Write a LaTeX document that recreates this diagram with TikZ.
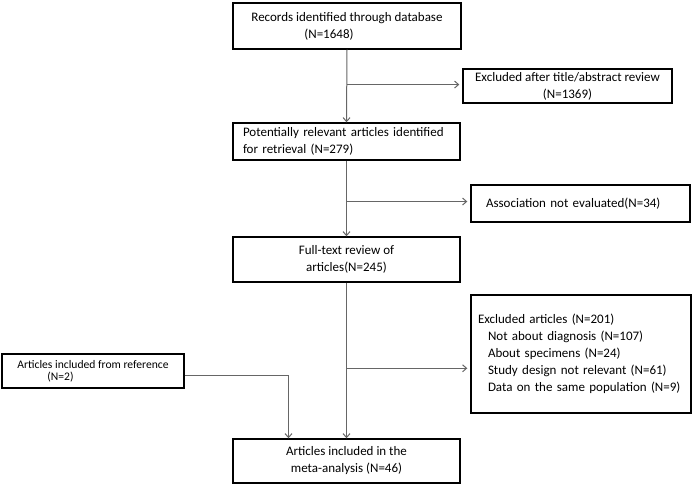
\documentclass[tikz,border=0pt]{standalone}
\usepackage{fontspec}
\setmainfont{Carlito}
\usetikzlibrary{positioning, arrows, arrows.meta, calc}

\tikzset{
    box/.style={draw, line width=1.4pt, inner ysep=0pt, font=\fontsize{13}{17}\selectfont},
    conn/.style={draw=black!60, line width=1pt},
    arr/.style={conn, -{Straight Barb[length=4pt, width=7pt]}, shorten >=3pt}
}

\begin{document}
\begin{tikzpicture}[x=1pt, y=-1pt]
    \useasboundingbox (0, 0) rectangle (697, 490);

    \node[box, minimum width=228, minimum height=46, align=left] (rec) at (347, 26)
        {Records identified through database\\\hspace*{53pt}(N=1648)};
    \node[box, minimum width=209, minimum height=34, align=center] (excl1) at (567.5, 86)
        {Excluded after title/abstract review\\(N=1369)};
    \node[box, minimum width=227, minimum height=37, inner xsep=10pt, text width=207, align=left] (pot) at (346.5, 141.5)
        {Potentially relevant articles identified\\for retrieval (N=279)};
    \node[box, minimum width=219, minimum height=37, inner xsep=15pt, text width=189, align=left] (assoc) at (580.5, 203.5)
        {Association not evaluated(N=34)};
    \node[box, minimum width=227, minimum height=45, align=center] (full) at (346.5, 259.5)
        {Full-text review of\\articles(N=245)};
    \node[box, minimum width=220, minimum height=118, inner xsep=7pt, text width=206, align=left] (excl2) at (581, 354)
        {Excluded articles (N=201)\\
         \hspace*{10pt}Not about diagnosis (N=107)\\
         \hspace*{10pt}About specimens (N=24)\\
         \hspace*{10pt}Study design not relevant (N=61)\\
         \hspace*{10pt}Data on the same population (N=9)};
    \node[box, minimum width=182, minimum height=34, align=left, font=\fontsize{11.6}{12}\selectfont] (ref) at (93, 371)
        {Articles included from reference\\\hspace*{30pt}(N=2)};
    \node[box, minimum width=227, minimum height=44, align=center] (meta) at (346.5, 461)
        {Articles included in the\\meta-analysis (N=46)};

    % branch points on the main line
    \coordinate (b1) at ($(rec.south)!0.48!(pot.north)$);
    \coordinate (b2) at ($(pot.south)!0.54!(full.north)$);
    \coordinate (b3) at ($(full.south)!0.55!(meta.north)$);
    \coordinate (m2) at ([xshift=-58pt]meta.north);

    \draw[arr, shorten >=0pt] (rec.south) -- (pot.north);
    \draw[arr] (b1) -- (b1 -| excl1.west);
    \draw[arr, shorten >=0pt] (pot.south) -- (full.north);
    \draw[arr] (b2) -- (b2 -| assoc.west);
    \draw[arr, shorten >=0pt] (full.south) -- (meta.north);
    \draw[arr] (b3) -- (b3 -| excl2.west);
    \draw[arr, shorten >=0pt] ([yshift=-4pt]ref.east) -| (m2);
\end{tikzpicture}
\end{document}
